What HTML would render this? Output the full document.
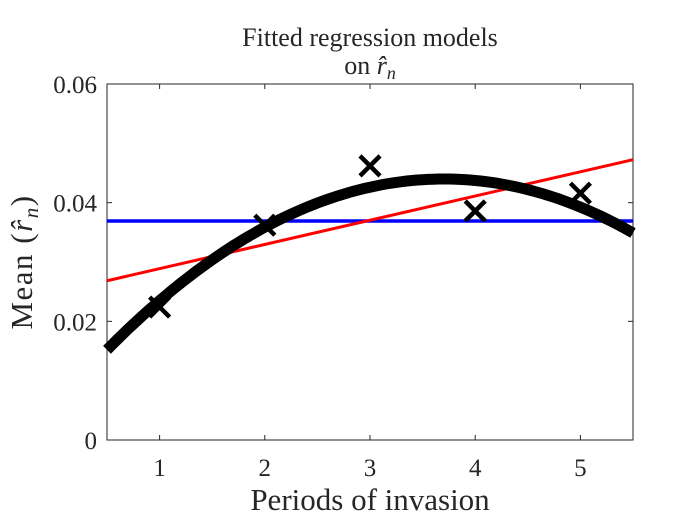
<!DOCTYPE html>
<html><head><meta charset="utf-8"><style>
body{margin:0;background:#fff;}
svg text{font-family:"Liberation Serif",serif;fill:#262626;}
</style></head><body>
<svg id="chart" width="700" height="525" viewBox="0 0 700 525" xmlns="http://www.w3.org/2000/svg">
<text x="370" y="46" font-size="26" text-anchor="middle">Fitted regression models</text>
<text x="370" y="74" font-size="26" text-anchor="middle">on <tspan font-style="italic">r̂</tspan><tspan font-style="italic" font-size="18" dy="5">n</tspan></text>
<g id="plot"></g>
<text x="370" y="510" font-size="31" text-anchor="middle">Periods of invasion</text>
<text transform="translate(32,262) rotate(-90)" font-size="31" text-anchor="middle" letter-spacing="1.5">Mean (<tspan font-style="italic">r̂</tspan><tspan font-style="italic" font-size="21" dy="6">n</tspan><tspan dy="-6">)</tspan></text>
</svg>
<script>
const xTicks=[1,2,3,4,5];
const yTicks=[0,0.02,0.04,0.06];
const yTickLabels=["0","0.02","0.04","0.06"];
const periods=[1,2,3,4,5];
const means=[0.0224,0.0362,0.0462,0.0386,0.0416];
const constFit=[0.0369];
const linearFit=[0.0248,0.00408]; // intercept, slope
const quadFit=[0.0055,0.0208,-0.00281]; // c0,c1,c2
const L=107,R=633,T=84,B=440,x0=0.5,x1=5.5,y0=0,y1=0.06;
const sx=v=>L+(v-x0)/(x1-x0)*(R-L);
const sy=v=>B-(v-y0)/(y1-y0)*(B-T);
const NS="http://www.w3.org/2000/svg";
const g=document.getElementById('plot');
function mk(t,a){const e=document.createElementNS(NS,t);for(const k in a)e.setAttribute(k,a[k]);g.appendChild(e);return e;}
const frame=mk('rect',{x:L,y:T,width:R-L,height:B-T,fill:'none',stroke:'#262626','stroke-width':1});


xTicks.forEach(v=>{
 const t1=mk('line',{x1:sx(v),x2:sx(v),y1:B,y2:B-5,stroke:'#262626'});
 
 
 const t2=mk('line',{x1:sx(v),x2:sx(v),y1:T,y2:T+5,stroke:'#262626'});
 
 
 const tx=mk('text',{x:sx(v),y:B+36,'font-size':25,'text-anchor':'middle'});tx.textContent=v;
 
 
});
yTicks.forEach((v,i)=>{
 const t1=mk('line',{x1:L,x2:L+5,y1:sy(v),y2:sy(v),stroke:'#262626'});
 
 
 const t2=mk('line',{x1:R,x2:R-5,y1:sy(v),y2:sy(v),stroke:'#262626'});
 
 
 const tx=mk('text',{x:L-10,y:sy(v)+9,'font-size':25,'text-anchor':'end'});tx.textContent=yTickLabels[i];
 
 
});
const c=mk('line',{x1:sx(x0),x2:sx(x1),y1:sy(constFit[0]),y2:sy(constFit[0]),stroke:'#0000ff','stroke-width':3.5});


const lf=v=>linearFit[0]+linearFit[1]*v;
const l=mk('line',{x1:sx(x0),x2:sx(x1),y1:sy(lf(x0)),y2:sy(lf(x1)),stroke:'#ff0000','stroke-width':3});


let d='';for(let i=0;i<=100;i++){const v=x0+(x1-x0)*i/100;const y=quadFit[0]+quadFit[1]*v+quadFit[2]*v*v;d+=(i?'L':'M')+sx(v).toFixed(1)+','+sy(y).toFixed(1);}
const q=mk('path',{d:d,fill:'none',stroke:'#000','stroke-width':11});


periods.forEach((p,i)=>{
 const X=sx(p),Y=sy(means[i]),s=10;
 const m=mk('path',{d:`M${X-s},${Y-s}L${X+s},${Y+s}M${X-s},${Y+s}L${X+s},${Y-s}`,stroke:'#000','stroke-width':4.5,fill:'none'});
 
 
});
</script>
</body></html>
